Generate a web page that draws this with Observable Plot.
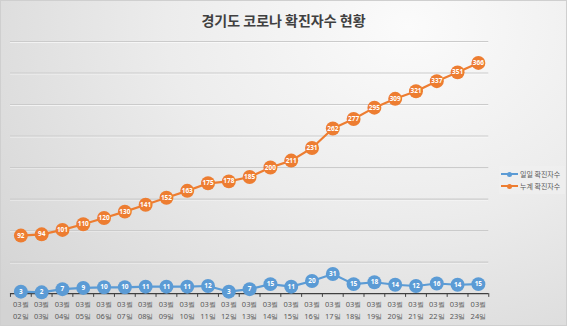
<!DOCTYPE html>
<html>
<head>
<meta charset="utf-8">
<script src="https://cdn.jsdelivr.net/npm/d3@7"></script>
<script src="https://cdn.jsdelivr.net/npm/@observablehq/plot@0.6"></script>
<style>
  html, body { margin: 0; padding: 0; }
  body { width: 567px; height: 326px; overflow: hidden; font-family: "Noto Sans CJK KR", "Noto Sans", sans-serif; }
  #wrap { position: relative; width: 567px; height: 326px; box-sizing: border-box;
    background: radial-gradient(ellipse 95% 130% at 72% 8%, #fbfbfb 0%, #ececec 45%, #d3d3d3 100%);
    border: 1px solid #cfcfcf; }
  #title { height: 34px; line-height: 38px; text-align: center; font-size: 14px; font-weight: bold; color: #404040; }
  #chart svg { display: block; }
  #legend { position: absolute; left: 498px; top: 165px; width: 66px; padding: 2px 0; background: rgba(240,240,240,0.6); font-size: 7px; color: #595959; }
  .item { display: flex; align-items: center; height: 12px; }
  .sw { position: relative; width: 17px; height: 2px; margin: 0 2px 0 2px; }
  .sw::after { content: ""; position: absolute; left: 6px; top: -1.5px; width: 5px; height: 5px; border-radius: 50%; background: inherit; }
</style>
</head>
<body>
<div id="wrap">
  <div id="title">경기도 코로나 확진자수 현황</div>
  <div id="chart"></div>
  <div id="legend">
    <div class="item"><span class="sw" style="background:#5B9BD5"></span><span>일일 확진자수</span></div>
    <div class="item"><span class="sw" style="background:#ED7D31"></span><span>누계 확진자수</span></div>
  </div>
</div>
<script>
const months = ["03월","03월","03월","03월","03월","03월","03월","03월","03월","03월","03월","03월","03월","03월","03월","03월","03월","03월","03월","03월","03월","03월","03월"];
const days = ["02일","03일","04일","05일","06일","07일","08일","09일","10일","11일","12일","13일","14일","15일","16일","17일","18일","19일","20일","21일","22일","23일","24일"];
const daily = [3,2,7,9,10,10,11,11,11,12,3,7,15,11,20,31,15,18,14,12,16,14,15];
const cumulative = [92,94,101,110,120,130,141,152,163,175,178,185,200,211,231,262,277,295,309,321,337,351,366];
const yTicks = [50,100,150,200,250,300,350,400];

const n = days.length;
const idx = d3.range(n);
const boundaries = d3.range(n + 1).map(i => i - 0.5);
const labels = idx.map(i => months[i] + "\n" + days[i]);

const orange = "#ED7D31", blue = "#5B9BD5";

const chart = Plot.plot({
  width: 567,
  height: 292,
  marginLeft: 9,
  marginRight: 78,
  marginTop: 6,
  marginBottom: 33,
  style: { background: "transparent", overflow: "visible" },
  x: { type: "linear", domain: [-0.5, n - 0.5], axis: null },
  y: { domain: [0, 400], axis: null },
  marks: [
    Plot.ruleY(yTicks, { stroke: "#ffffff", strokeWidth: 1, dy: 1, strokeOpacity: 0.6 }),
    Plot.ruleY(yTicks, { stroke: "#cbcbcb", strokeWidth: 1.2 }),
    Plot.ruleY([0], { stroke: "#404040", strokeWidth: 1.3 }),
    Plot.ruleX(boundaries, { x: d => d, y1: 0, y2: -6, stroke: "#404040", strokeWidth: 1 }),
    Plot.text(labels, { x: (d, i) => i, frameAnchor: "bottom", dy: 5, text: d => d, fontSize: 7.5, fill: "#595959", lineHeight: 1.6, lineAnchor: "top" }),
    Plot.line(idx, { x: i => i, y: i => cumulative[i], stroke: orange, strokeWidth: 2.2 }),
    Plot.dot(idx, { x: i => i, y: i => cumulative[i], r: 7, fill: orange }),
    Plot.text(idx, { x: i => i, y: i => cumulative[i], text: i => String(cumulative[i]), fill: "white", fontSize: 6.5, fontWeight: "bold" }),
    Plot.line(idx, { x: i => i, y: i => daily[i], stroke: blue, strokeWidth: 2.2 }),
    Plot.dot(idx, { x: i => i, y: i => daily[i], r: 7, fill: blue }),
    Plot.text(idx, { x: i => i, y: i => daily[i], text: i => String(daily[i]), fill: "white", fontSize: 6.5, fontWeight: "bold" })
  ]
});
document.getElementById("chart").appendChild(chart);
</script>
</body>
</html>
